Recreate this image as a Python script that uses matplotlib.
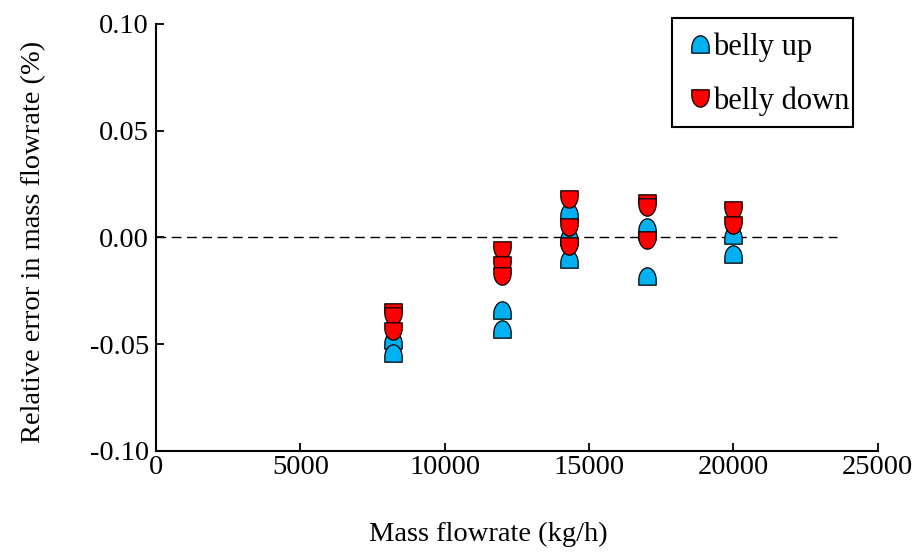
import numpy as np
import matplotlib
matplotlib.use("Agg")
import matplotlib.pyplot as plt
from matplotlib.path import Path
from matplotlib.patches import Rectangle

plt.rcParams['font.family'] = ['Liberation Serif', 'DejaVu Serif']

# data
up_x = [8200, 8200, 12000, 12000, 14300, 14300, 14300, 17000, 17000, 17000, 20000, 20000]
up_y = [-0.048, -0.054, -0.034, -0.043, 0.012, 0.000, -0.010, 0.003, 0.005, -0.018, 0.001, -0.008]
down_x = [8200, 8200, 8200, 12000, 12000, 12000, 14300, 14300, 14300, 17000, 17000, 17000, 20000, 20000]
down_y = [-0.035, -0.037, -0.044, -0.006, -0.013, -0.018, 0.018, 0.005, -0.004, 0.016, 0.014, -0.001, 0.013, 0.006]

x_ticks = [0, 5000, 10000, 15000, 20000, 25000]
y_ticks = [-0.10, -0.05, 0.00, 0.05, 0.10]


# dome marker: flat bottom, rounded top
def dome(flip=False):
    t = np.linspace(0, np.pi, 40)
    xs = np.concatenate([[-1, 1, 1], np.cos(t), [-1]])
    ys = np.concatenate([[-1, -1, -0.4], -0.4 + 1.4 * np.sin(t), [-1]])
    if flip:
        ys = -ys
    return Path(np.column_stack([xs, ys]), closed=True)


fig = plt.figure(figsize=(9.18, 5.54), dpi=100)
ax = fig.add_axes([0.170, 0.186, 0.786, 0.771])

ax.plot([0, 23600], [0, 0], color='black', lw=1, ls=(0, (7, 4)), zorder=1)
ax.plot(up_x, up_y, ls='none', marker=dome(), ms=12.5, mfc='#00B0F0', mec='black',
        mew=0.9, label='belly up', zorder=3)
ax.plot(down_x, down_y, ls='none', marker=dome(True), ms=12.5, mfc='#FF0000', mec='black',
        mew=0.9, label='belly down', zorder=4)

ax.set_xlim(0, 25000)
ax.set_ylim(-0.10, 0.10)
ax.set_xticks(x_ticks)
ax.set_yticks(y_ticks)
ax.set_yticklabels(['%.2f' % v for v in y_ticks])
ax.tick_params(axis='both', direction='in', length=6, width=1.3, labelsize=20.5)
ax.tick_params(axis='x', pad=3)
ax.tick_params(axis='y', pad=5)
for s in ['top', 'right']:
    ax.spines[s].set_visible(False)
for s in ['left', 'bottom']:
    ax.spines[s].set_linewidth(1.5)

ax.set_xlabel('Mass flowrate (kg/h)', fontsize=20.5)
ax.set_ylabel('Relative error in mass flowrate (%)', fontsize=20.5)
ax.xaxis.set_label_coords(0.461, -0.167)
ax.yaxis.set_label_coords(-0.153, 0.489)

# legend without its own frame; the box is drawn separately
leg = ax.legend(loc='center left', bbox_to_anchor=(692 / 918, 1 - 74 / 554),
                bbox_transform=fig.transFigure, fontsize=22, frameon=False,
                handletextpad=0.2, handlelength=0.5, labelspacing=0.8, borderpad=0,
                borderaxespad=0, numpoints=1, markerscale=1.0)
fig.patches.append(Rectangle((672 / 918, 1 - 127 / 554), 181 / 918, 109 / 554,
                             transform=fig.transFigure, fill=False, edgecolor='black',
                             lw=1.5, figure=fig))

fig.savefig('out.png', dpi=100)
